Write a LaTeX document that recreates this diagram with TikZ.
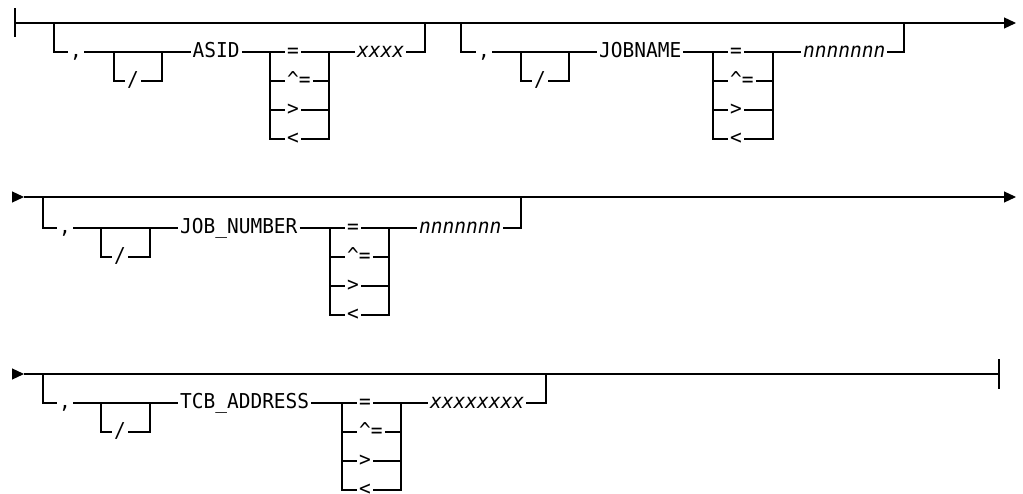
\documentclass[tikz,border=0pt]{standalone}
\usepackage{fontspec}
\setmonofont[FakeStretch=0.95]{DejaVu Sans Mono}
\usepackage{tikz}
\usetikzlibrary{arrows.meta}
\newcommand{\kwfont}{\ttfamily\fontsize{20.5}{23}\selectfont}
\newcommand{\varfont}{\ttfamily\itshape\fontsize{20.5}{23}\selectfont}

\begin{document}
\kwfont
\begin{tikzpicture}[
  x=1pt, y=-1pt,
  >={Triangle[length=12pt,width=11pt]},
  rail/.style={line width=1.2pt},
  kw/.style={font=\kwfont, inner xsep=2pt, inner ysep=0pt, anchor=mid west},
  var/.style={kw, font=\varfont}
]
\useasboundingbox (0,0) rectangle (1023,494);
% ---- row 1: main line ----
\draw[rail] (15,8.5) -- (15,37.5);
\coordinate (r1s) at (15,23);
\coordinate (r1e) at (1016,23);
\draw[rail,->] (r1s) -- (r1e);
% ---- ASID ----
\coordinate (aIn) at (54,23);
\coordinate (aOut) at (425,23);
\coordinate (aL) at (114,52);
\coordinate (aR) at (162,52);
\coordinate (aCL) at (270,52);
\coordinate (aCR) at (329,52);
\node[kw] (aComma) at (68,52) {,};
\node[kw] (aSlash) at (125,81) {/};
\node[kw] (aKey) at (190.5,52) {ASID};
\node[kw] (aEq) at (285,52) {=};
\node[kw] (aNe) at (285,81) {\textasciicircum=};
\node[kw] (aGt) at (285,110) {>};
\node[kw] (aLt) at (285,139) {<};
\node[var] (aVal) at (355,52) {xxxx};
\draw[rail] (aIn) |- (aComma.mid west);
\draw[rail] (aComma.mid east) -- (aKey.mid west);
\draw[rail] (aL) |- (aSlash.mid west);
\draw[rail] (aSlash.mid east) -| (aR);
\draw[rail] (aKey.mid east) -- (aEq.mid west);
\draw[rail] (aEq.mid east) -- (aVal.mid west);
\draw[rail] (aCL) |- (aLt.mid west) (aNe.mid west -| aCL) -- (aNe.mid west)
  (aGt.mid west -| aCL) -- (aGt.mid west);
\draw[rail] (aCR) |- (aLt.mid east) (aNe.mid east) -- (aNe.mid east -| aCR)
  (aGt.mid east) -- (aGt.mid east -| aCR);
\draw[rail] (aVal.mid east) -| (aOut);
% ---- JOBNAME ----
\coordinate (bIn) at (461,23);
\coordinate (bOut) at (904,23);
\coordinate (bL) at (521,52);
\coordinate (bR) at (569,52);
\coordinate (bCL) at (713,52);
\coordinate (bCR) at (773,52);
\node[kw] (bComma) at (476,52) {,};
\node[kw] (bSlash) at (532,81) {/};
\node[kw] (bKey) at (597,52) {JOBNAME};
\node[kw] (bEq) at (728,52) {=};
\node[kw] (bNe) at (728,81) {\textasciicircum=};
\node[kw] (bGt) at (728,110) {>};
\node[kw] (bLt) at (728,139) {<};
\node[var] (bVal) at (801,52) {nnnnnnn};
\draw[rail] (bIn) |- (bComma.mid west);
\draw[rail] (bComma.mid east) -- (bKey.mid west);
\draw[rail] (bL) |- (bSlash.mid west);
\draw[rail] (bSlash.mid east) -| (bR);
\draw[rail] (bKey.mid east) -- (bEq.mid west);
\draw[rail] (bEq.mid east) -- (bVal.mid west);
\draw[rail] (bCL) |- (bLt.mid west) (bNe.mid west -| bCL) -- (bNe.mid west)
  (bGt.mid west -| bCL) -- (bGt.mid west);
\draw[rail] (bCR) |- (bLt.mid east) (bNe.mid east) -- (bNe.mid east -| bCR)
  (bGt.mid east) -- (bGt.mid east -| bCR);
\draw[rail] (bVal.mid east) -| (bOut);
% ---- row 2: main line ----
\coordinate (r2a) at (12,197);
\coordinate (r2s) at (24,197);
\coordinate (r2e) at (1016,197);
\draw[rail,->] (r2a) -- (r2s);
\draw[rail,->] (r2s) -- (r2e);
% ---- JOB_NUMBER ----
\coordinate (cIn) at (43,197);
\coordinate (cOut) at (521,197);
\coordinate (cL) at (101,228);
\coordinate (cR) at (150,228);
\coordinate (cCL) at (330,228);
\coordinate (cCR) at (389,228);
\node[kw] (cComma) at (57,228) {,};
\node[kw] (cSlash) at (112,257) {/};
\node[kw] (cKey) at (178,228) {JOB\_NUMBER};
\node[kw] (cEq) at (345,228) {=};
\node[kw] (cNe) at (345,257) {\textasciicircum=};
\node[kw] (cGt) at (345,286) {>};
\node[kw] (cLt) at (345,315) {<};
\node[var] (cVal) at (417,228) {nnnnnnn};
\draw[rail] (cIn) |- (cComma.mid west);
\draw[rail] (cComma.mid east) -- (cKey.mid west);
\draw[rail] (cL) |- (cSlash.mid west);
\draw[rail] (cSlash.mid east) -| (cR);
\draw[rail] (cKey.mid east) -- (cEq.mid west);
\draw[rail] (cEq.mid east) -- (cVal.mid west);
\draw[rail] (cCL) |- (cLt.mid west) (cNe.mid west -| cCL) -- (cNe.mid west)
  (cGt.mid west -| cCL) -- (cGt.mid west);
\draw[rail] (cCR) |- (cLt.mid east) (cNe.mid east) -- (cNe.mid east -| cCR)
  (cGt.mid east) -- (cGt.mid east -| cCR);
\draw[rail] (cVal.mid east) -| (cOut);
% ---- row 3: main line ----
\coordinate (r3a) at (12,374);
\coordinate (r3s) at (24,374);
\coordinate (r3e) at (999,374);
\draw[rail,->] (r3a) -- (r3s);
\draw[rail] (r3s) -- (r3e);
\draw[rail] (999,359.5) -- (999,388.5);
% ---- TCB_ADDRESS ----
\coordinate (dIn) at (43,374);
\coordinate (dOut) at (546,374);
\coordinate (dL) at (101,403);
\coordinate (dR) at (150,403);
\coordinate (dCL) at (342,403);
\coordinate (dCR) at (401,403);
\node[kw] (dComma) at (57,403) {,};
\node[kw] (dSlash) at (112,432) {/};
\node[kw] (dKey) at (178,403) {TCB\_ADDRESS};
\node[kw] (dEq) at (357,403) {=};
\node[kw] (dNe) at (357,432) {\textasciicircum=};
\node[kw] (dGt) at (357,461) {>};
\node[kw] (dLt) at (357,490) {<};
\node[var] (dVal) at (428,403) {xxxxxxxx};
\draw[rail] (dIn) |- (dComma.mid west);
\draw[rail] (dComma.mid east) -- (dKey.mid west);
\draw[rail] (dL) |- (dSlash.mid west);
\draw[rail] (dSlash.mid east) -| (dR);
\draw[rail] (dKey.mid east) -- (dEq.mid west);
\draw[rail] (dEq.mid east) -- (dVal.mid west);
\draw[rail] (dCL) |- (dLt.mid west) (dNe.mid west -| dCL) -- (dNe.mid west)
  (dGt.mid west -| dCL) -- (dGt.mid west);
\draw[rail] (dCR) |- (dLt.mid east) (dNe.mid east) -- (dNe.mid east -| dCR)
  (dGt.mid east) -- (dGt.mid east -| dCR);
\draw[rail] (dVal.mid east) -| (dOut);
\end{tikzpicture}
\end{document}
